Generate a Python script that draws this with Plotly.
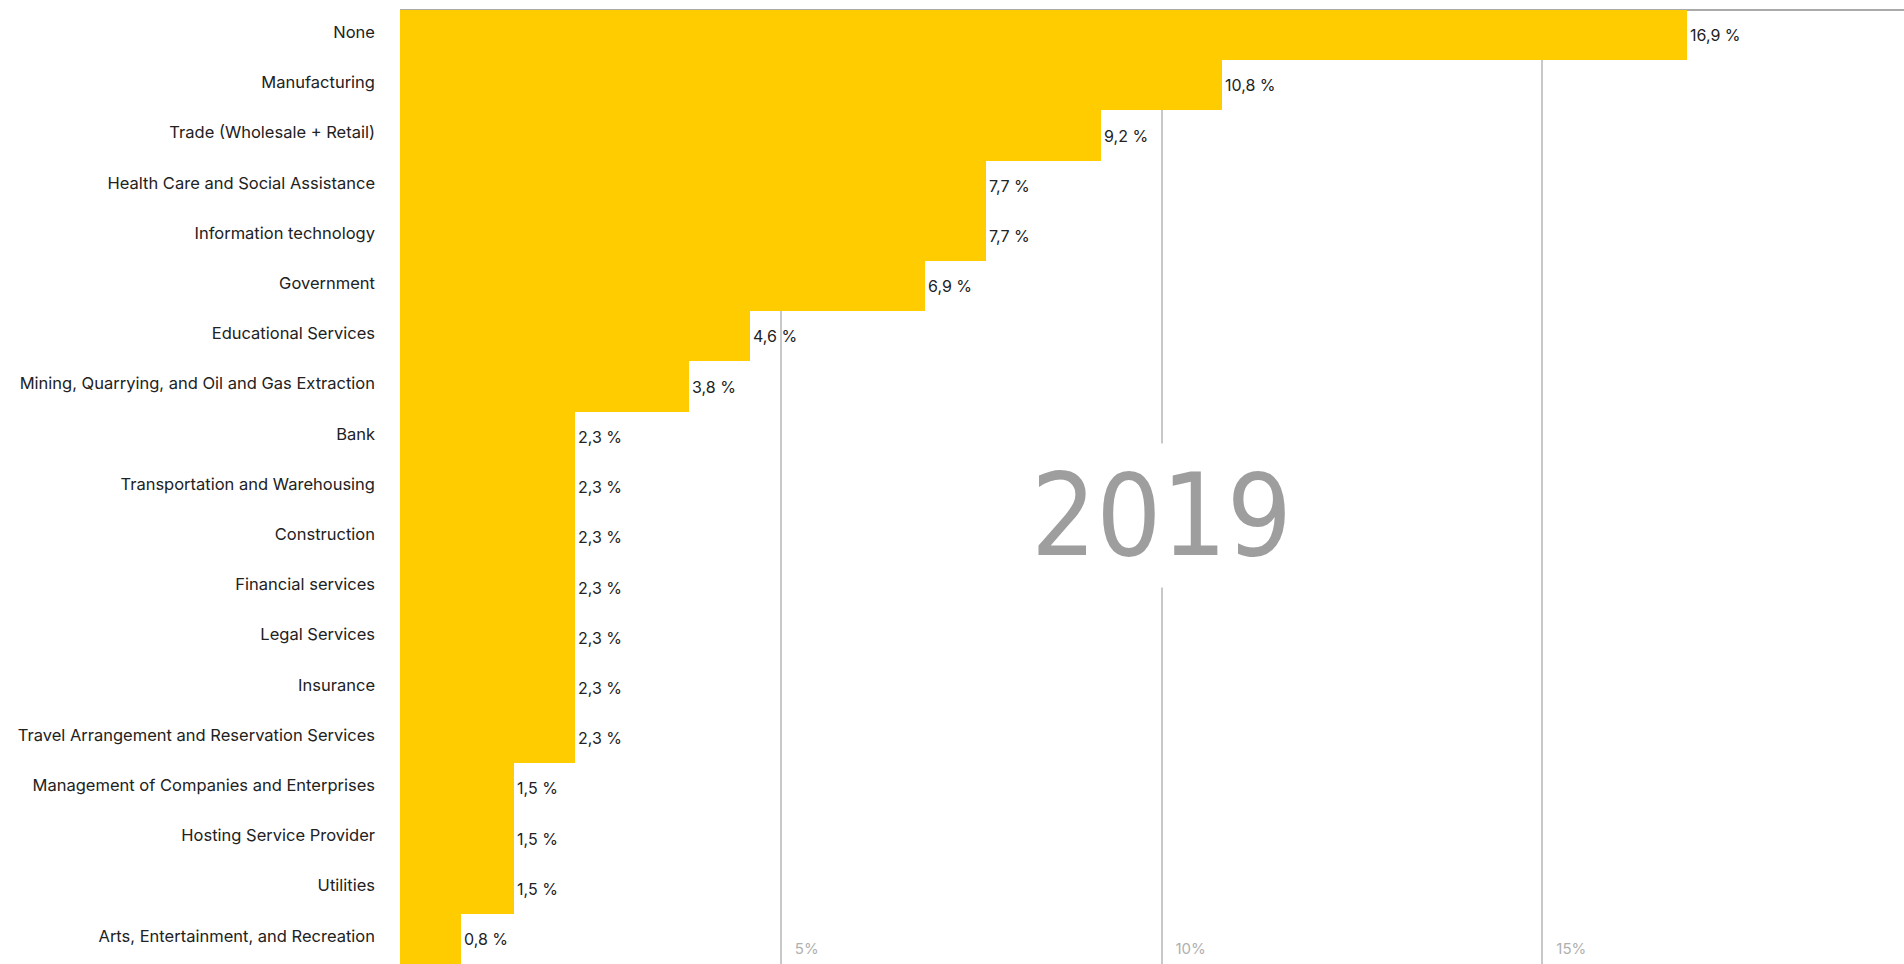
import plotly.graph_objects as go

categories = [
    "None",
    "Manufacturing",
    "Trade (Wholesale + Retail)",
    "Health Care and Social Assistance",
    "Information technology",
    "Government",
    "Educational Services",
    "Mining, Quarrying, and Oil and Gas Extraction",
    "Bank",
    "Transportation and Warehousing",
    "Construction",
    "Financial services",
    "Legal Services",
    "Insurance",
    "Travel Arrangement and Reservation Services",
    "Management of Companies and Enterprises",
    "Hosting Service Provider",
    "Utilities",
    "Arts, Entertainment, and Recreation",
]
values = [16.9, 10.8, 9.2, 7.7, 7.7, 6.9, 4.6, 3.8, 2.3, 2.3, 2.3, 2.3, 2.3, 2.3, 2.3, 1.5, 1.5, 1.5, 0.8]
tick_values = [5, 10, 15]
tick_labels = ["5%", "10%", "15%"]
year_label = "2019"

fig = go.Figure(
    go.Bar(
        x=values,
        y=categories,
        orientation="h",
        marker=dict(color="#FFCC00", line=dict(width=0)),
        texttemplate="%{x:.1f} %",
        textposition="outside",
        textfont=dict(family="Inter", size=16, color="#222222"),
        cliponaxis=False,
        hoverinfo="skip",
    )
)

fig.update_layout(
    width=1904,
    height=964,
    margin=dict(l=400, r=0, t=10, b=0),
    paper_bgcolor="white",
    plot_bgcolor="white",
    bargap=0,
    separators=", ",
    showlegend=False,
    font=dict(family="Inter", color="#222222"),
)

fig.update_xaxes(
    range=[0, 19.75],
    tickvals=tick_values,
    ticktext=tick_labels,
    ticklabelposition="inside right",
    ticklabelshift=14,
    ticklabelstandoff=1,
    tickfont=dict(family="Inter", size=15, color="#b0b0b0"),
    showgrid=True,
    gridcolor="#c8c8c8",
    gridwidth=1.5,
    zeroline=False,
    showline=False,
    ticks="",
    fixedrange=True,
)

fig.update_yaxes(
    categoryorder="array",
    categoryarray=categories,
    range=[len(categories) - 0.5, -0.5],
    tickfont=dict(family="Inter", size=16.5, color="#222222"),
    ticks="",
    ticklabelstandoff=24,
    ticklabelshift=3,
    showgrid=False,
    zeroline=False,
    showline=False,
    automargin=False,
    fixedrange=True,
)

# top border line
fig.add_shape(
    type="line", xref="paper", yref="paper",
    x0=0, x1=1, y0=1, y1=1,
    line=dict(color="#aaaaaa", width=2),
    layer="below",
)

fig.add_annotation(
    x=10, y=0.47, xref="x", yref="paper",
    text=year_label,
    showarrow=False,
    font=dict(family="DejaVu Sans Condensed, DejaVu Sans", size=114, color="#9e9e9e"),
    bgcolor="white",
    borderpad=5,
    xanchor="center", yanchor="middle",
)

fig.write_html("out.html", config={"displayModeBar": False})
